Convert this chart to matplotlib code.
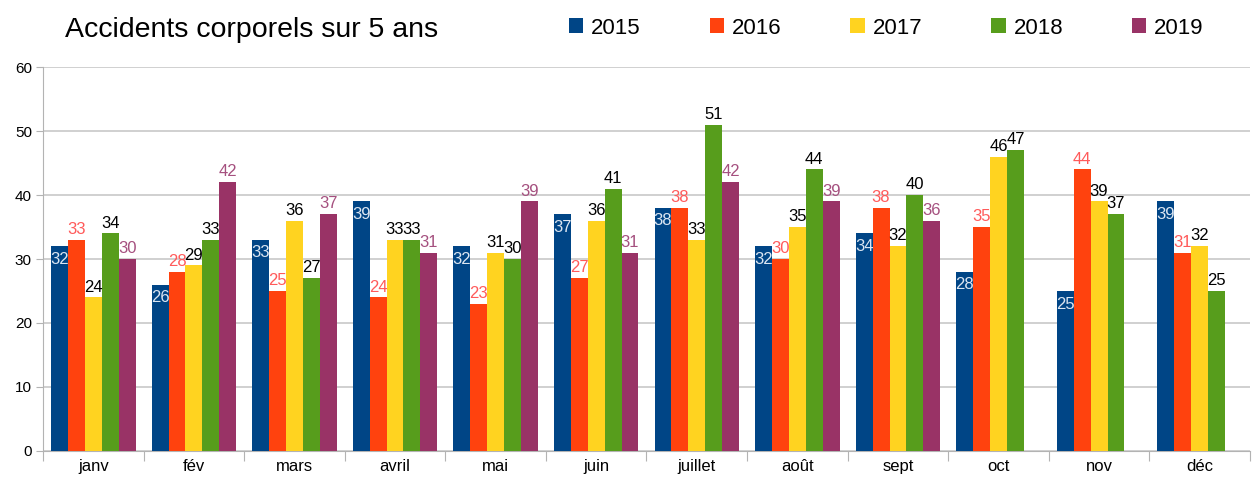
"""
Histogramme groupé : accidents corporels par mois sur 5 ans (2015-2019).
Sortie : out.png
"""
import numpy as np
import matplotlib.pyplot as plt
from matplotlib.patches import Patch

plt.rcParams["font.family"] = ["Liberation Sans", "DejaVu Sans"]

MOIS = ["janv", "fév", "mars", "avril", "mai", "juin",
        "juillet", "août", "sept", "oct", "nov", "déc"]
ANNEES = ["2015", "2016", "2017", "2018", "2019"]

V2015 = [32, 26, 33, 39, 32, 37, 38, 32, 34, 28, 25, 39]
V2016 = [33, 28, 25, 24, 23, 27, 38, 30, 38, 35, 44, 31]
V2017 = [24, 29, 36, 33, 31, 36, 33, 35, 32, 46, 39, 32]
V2018 = [34, 33, 27, 33, 30, 41, 51, 44, 40, 47, 37, 25]
V2019 = [30, 42, 37, 31, 39, 31, 42, 39, 36, None, None, None]

COULEURS = ["#004586", "#ff420e", "#ffd320", "#579d1c", "#993366"]
COUL_LABELS = ["#dce6f2", "#ff5a5a", "#000000", "#000000", "#a5507f"]


def main() -> None:
    fig = plt.figure(figsize=(12.58, 4.82), dpi=100)
    ax = fig.add_axes([43 / 1258, 31 / 482, 1207 / 1258, 384 / 482])

    series = [V2015, V2016, V2017, V2018, V2019]
    x = np.arange(len(MOIS))
    w = 0.168
    for i, (vals, col, lcol) in enumerate(zip(series, COULEURS, COUL_LABELS)):
        y = np.array([np.nan if v is None else v for v in vals], dtype=float)
        pos = x - 2 * w + i * w
        bars = ax.bar(pos, y, width=w, color=col, zorder=3)
        for b, v in zip(bars, vals):
            if v is None:
                continue
            cx = b.get_x() + b.get_width() / 2
            if i == 0:
                ax.annotate(str(v), (cx, v), xytext=(0, -4), textcoords="offset points",
                            ha="center", va="top", fontsize=12, color=lcol, zorder=4)
            else:
                ax.annotate(str(v), (cx, v), xytext=(0, 2), textcoords="offset points",
                            ha="center", va="bottom", fontsize=12, color=lcol, zorder=4)

    ax.set_xlim(-0.5, len(MOIS) - 0.5)
    ax.set_ylim(0, 60)
    ax.set_yticks(range(0, 61, 10))
    ax.yaxis.grid(True, color="#c8c8c8", linewidth=1.2, zorder=0)

    # graduations entre les catégories, libellés au centre
    ax.set_xticks(np.arange(-0.5, len(MOIS), 1.0))
    ax.set_xticklabels([])
    ax.set_xticks(x, minor=True)
    ax.set_xticklabels(MOIS, minor=True, fontsize=12)
    ax.tick_params(axis="x", which="minor", length=0, pad=6)
    ax.tick_params(axis="x", which="major", length=7, color="#b3b3b3")
    ax.tick_params(axis="y", length=5, color="#b3b3b3", labelsize=11, pad=3)

    for s in ["top", "right"]:
        ax.spines[s].set_visible(False)
    for s in ["left", "bottom"]:
        ax.spines[s].set_color("#b3b3b3")

    fig.text(65 / 1258, 1 - 30 / 482, "Accidents corporels sur 5 ans",
             fontsize=20.5, va="center", ha="left")

    handles = [Patch(facecolor=c) for c in COULEURS]
    fig.legend(handles, ANNEES, loc="center left", ncol=5,
               bbox_to_anchor=(549 / 1258, 1 - 28 / 482), frameon=False,
               fontsize=16, handlelength=0.65, handleheight=0.65,
               handletextpad=0.35, columnspacing=3.1)

    fig.savefig("out.png")
    plt.close(fig)


if __name__ == "__main__":
    main()
